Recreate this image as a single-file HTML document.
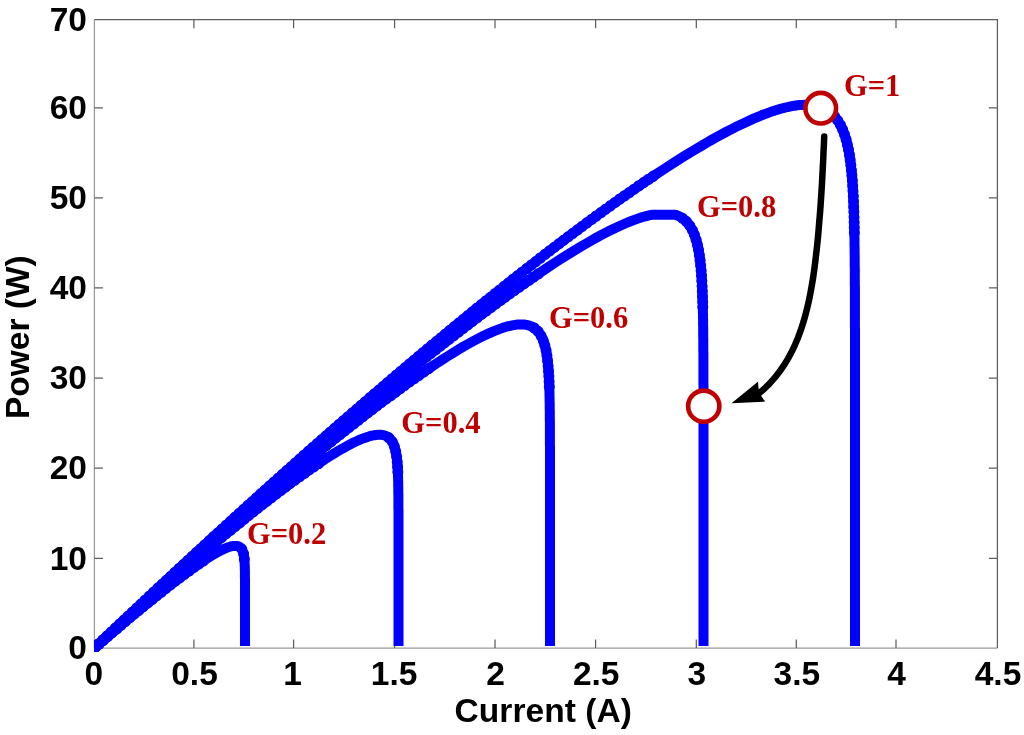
<!DOCTYPE html>
<html lang="en"><head><meta charset="utf-8"><title>P-I curves</title>
<style>
html,body{margin:0;padding:0;background:#fff;}
body{width:1024px;height:735px;overflow:hidden;position:relative;}
svg{position:absolute;left:0;top:0;display:block;}
.t{font-family:"Liberation Sans",Arial,Helvetica,sans-serif;font-weight:bold;font-size:33.5px;fill:#000;}
.l{font-family:"Liberation Sans",Arial,Helvetica,sans-serif;font-weight:bold;font-size:33.5px;fill:#000;}
.g{font-family:"Liberation Serif","Times New Roman",Times,serif;font-weight:bold;font-size:30.5px;fill:#c00000;}
</style></head><body>
<svg width="1024" height="735" viewBox="0 0 1024 735">
<rect x="0" y="0" width="1024" height="735" fill="#fff"/>
<defs><clipPath id="cp"><rect x="94" y="19" width="904" height="633"/></clipPath></defs>

<g fill="none" stroke-width="1.25">
<path stroke="#9a9a9a" d="M94.4,19.7 V648 H997.4"/>
<path stroke="#5e5e5e" d="M94.4,19.7 H997.4 V648"/>
<path stroke="#5e5e5e" d="M193.9,648 v-8.5 M193.9,19.7 v8.5 M293.6,648 v-8.5 M293.6,19.7 v8.5 M394.6,648 v-8.5 M394.6,19.7 v8.5 M495.0,648 v-8.5 M495.0,19.7 v8.5 M595.6,648 v-8.5 M595.6,19.7 v8.5 M696.3,648 v-8.5 M696.3,19.7 v8.5 M796.3,648 v-8.5 M796.3,19.7 v8.5 M896.0,648 v-8.5 M896.0,19.7 v8.5 M94.4,558.3 h8.5 M997.4,558.3 h-8.5 M94.4,468.2 h8.5 M997.4,468.2 h-8.5 M94.4,378.2 h8.5 M997.4,378.2 h-8.5 M94.4,287.8 h8.5 M997.4,287.8 h-8.5 M94.4,197.8 h8.5 M997.4,197.8 h-8.5 M94.4,107.9 h8.5 M997.4,107.9 h-8.5"/>
</g>
<g clip-path="url(#cp)" fill="none" stroke="#0000ff" stroke-width="10.0" stroke-linejoin="round" stroke-linecap="butt">
<path id="c0" d="M94.5,648.0 L96.2,646.5 L97.9,645.0 L99.6,643.5 L101.4,642.0 L103.1,640.6 L104.8,639.1 L106.5,637.6 L108.2,636.1 L109.9,634.7 L111.6,633.2 L113.4,631.7 L115.1,630.3 L116.8,628.8 L118.5,627.3 L120.2,625.9 L121.9,624.4 L123.6,623.0 L125.4,621.5 L127.1,620.1 L128.8,618.6 L130.5,617.2 L132.2,615.8 L133.9,614.3 L135.6,612.9 L137.4,611.5 L139.1,610.1 L140.8,608.7 L142.5,607.2 L144.2,605.8 L145.9,604.4 L147.7,603.0 L149.4,601.6 L151.1,600.3 L152.8,598.9 L154.5,597.5 L156.2,596.1 L157.9,594.7 L159.7,593.4 L161.4,592.0 L163.1,590.6 L164.8,589.3 L166.5,587.9 L168.2,586.6 L169.9,585.3 L171.7,583.9 L173.4,582.6 L175.1,581.3 L176.8,580.0 L178.5,578.7 L180.2,577.4 L181.9,576.1 L183.7,574.8 L185.4,573.6 L187.1,572.3 L188.8,571.1 L190.5,569.8 L192.2,568.6 L193.9,567.4 L195.7,566.2 L197.4,565.0 L199.1,563.8 L200.8,562.6 L202.5,561.5 L204.2,560.3 L205.9,559.2 L207.7,558.1 L209.4,557.0 L211.1,556.0 L212.8,554.9 L214.5,553.9 L216.2,552.9 L217.9,552.0 L219.7,551.1 L221.4,550.2 L223.1,549.4 L224.8,548.6 L226.5,547.9 L228.2,547.2 L229.9,546.7 L230.6,546.5 L231.3,546.3 L231.9,546.2 L232.5,546.1 L233.1,546.0 L234.1,546.0 L235.1,546.0 L235.9,546.0 L236.7,546.0 L237.5,546.0 L238.1,546.2 L238.7,546.4 L239.3,546.7 L239.8,547.0 L240.3,547.4 L240.7,547.7 L241.1,548.2 L241.4,548.6 L241.7,549.0 L242.0,549.5 L242.3,550.0 L242.5,550.5 L242.7,551.1 L242.9,551.6 L243.1,552.2 L243.3,552.7 L243.4,553.3 L243.6,553.9 L243.7,554.5 L243.8,555.1 L243.9,555.7 L244.0,556.4 L244.1,557.0 L244.2,557.6 L244.3,558.3 L244.3,558.9 L244.4,559.5 L244.4,560.2 L244.5,560.8 L244.5,561.5 L244.6,562.2 L244.6,562.8 L244.6,563.5 L244.7,564.1 L244.7,564.8 L244.7,565.5 L244.8,566.2 L244.8,566.8 L244.8,567.5 L244.8,568.2 L244.8,568.8 L244.8,569.5 L244.9,570.2 L244.9,570.9 L244.9,571.5 L244.9,572.2 L244.9,572.9 L244.9,573.6 L244.9,574.3 L244.9,574.9 L244.9,575.6 L244.9,576.3 L244.9,577.0 L244.9,577.7 L245.0,578.3 L245.0,579.0 L245.0,579.7 L245.0,580.4 L245.0,581.1 L245.0,581.8 L245.0,582.4 L245.0,583.1 L245.0,583.8 L245.0,584.5 L245.0,585.2 L245.0,585.8 L245.0,586.5 L245.0,587.2 L245.0,587.9 L245.0,588.6 L245.0,589.3 L245.0,589.9 L245.0,590.6 L245.0,591.3 L245.0,592.0 L245.0,592.7 L245.0,593.4 L245.0,594.0 L245.0,594.7 L245.0,595.4 L245.0,596.1 L245.0,596.8 L245.0,597.5 L245.0,598.1 L245.0,598.8 L245.0,599.5 L245.0,600.2 L245.0,600.9 L245.0,601.6 L245.0,602.2 L245.0,602.9 L245.0,603.6 L245.0,604.3 L245.0,605.0 L245.0,605.7 L245.0,606.4 L245.0,607.0 L245.0,607.7 L245.0,608.4 L245.0,609.1 L245.0,609.8 L245.0,610.5 L245.0,611.1 L245.0,611.8 L245.0,612.5 L245.0,613.2 L245.0,613.9 L245.0,614.6 L245.0,615.2 L245.0,615.9 L245.0,616.6 L245.0,617.3 L245.0,618.0 L245.0,618.7 L245.0,619.3 L245.0,620.0 L245.0,620.7 L245.0,621.4 L245.0,622.1 L245.0,622.8 L245.0,623.4 L245.0,624.1 L245.0,624.8 L245.0,625.5 L245.0,626.2 L245.0,626.9 L245.0,627.5 L245.0,628.2 L245.0,628.9 L245.0,629.6 L245.0,630.3 L245.0,631.0 L245.0,631.6 L245.0,632.3 L245.0,633.0 L245.0,633.7 L245.0,634.4 L245.0,635.1 L245.0,635.7 L245.0,636.4 L245.0,637.1 L245.0,637.8 L245.0,638.5 L245.0,639.2 L245.0,639.8 L245.0,640.5 L245.0,641.2 L245.0,641.9 L245.0,642.6 L245.0,643.3 L245.0,643.9 L245.0,644.6 L245.0,645.3 L245.0,646.0 L245.0,646.0"/>
<path stroke-width="11.2" stroke-linecap="round" stroke-dasharray="0.01 5.8" d="M94.5,648.0 L96.2,646.5 L97.9,645.0 L99.6,643.5 L101.4,642.0 L103.1,640.6 L104.8,639.1 L106.5,637.6 L108.2,636.1 L109.9,634.7 L111.6,633.2 L113.4,631.7 L115.1,630.3 L116.8,628.8 L118.5,627.3 L120.2,625.9 L121.9,624.4 L123.6,623.0 L125.4,621.5 L127.1,620.1 L128.8,618.6 L130.5,617.2 L132.2,615.8 L133.9,614.3 L135.6,612.9 L137.4,611.5 L139.1,610.1 L140.8,608.7 L142.5,607.2 L144.2,605.8 L145.9,604.4 L147.7,603.0 L149.4,601.6 L151.1,600.3 L152.8,598.9 L154.5,597.5 L156.2,596.1 L157.9,594.7 L159.7,593.4 L161.4,592.0 L163.1,590.6 L164.8,589.3 L166.5,587.9 L168.2,586.6 L169.9,585.3 L171.7,583.9 L173.4,582.6 L175.1,581.3 L176.8,580.0 L178.5,578.7 L180.2,577.4 L181.9,576.1 L183.7,574.8 L185.4,573.6 L187.1,572.3 L188.8,571.1 L190.5,569.8 L192.2,568.6 L193.9,567.4 L195.7,566.2 L197.4,565.0 L199.1,563.8 L200.8,562.6 L202.5,561.5 L204.2,560.3"/>
<path stroke-width="11" stroke-linecap="round" stroke-dasharray="0.01 5.2" d="M241.7,549.0 L242.0,549.5 L242.3,550.0 L242.5,550.5 L242.7,551.1 L242.9,551.6 L243.1,552.2 L243.3,552.7 L243.4,553.3 L243.6,553.9 L243.7,554.5 L243.8,555.1 L243.9,555.7 L244.0,556.4 L244.1,557.0 L244.2,557.6 L244.3,558.3 L244.3,558.9 L244.4,559.5"/>
<path id="c1" d="M94.5,648.0 L98.0,644.9 L101.4,641.7 L104.9,638.6 L108.4,635.5 L111.8,632.4 L115.3,629.3 L118.7,626.2 L122.2,623.1 L125.7,620.0 L129.1,616.9 L132.6,613.8 L136.1,610.8 L139.5,607.7 L143.0,604.7 L146.4,601.6 L149.9,598.6 L153.4,595.5 L156.8,592.5 L160.3,589.5 L163.8,586.5 L167.2,583.5 L170.7,580.5 L174.2,577.5 L177.6,574.5 L181.1,571.5 L184.5,568.6 L188.0,565.6 L191.5,562.7 L194.9,559.7 L198.4,556.8 L201.9,553.9 L205.3,551.0 L208.8,548.1 L212.3,545.2 L215.7,542.3 L219.2,539.4 L222.6,536.6 L226.1,533.7 L229.6,530.9 L233.0,528.1 L236.5,525.3 L240.0,522.5 L243.4,519.7 L246.9,516.9 L250.3,514.1 L253.8,511.4 L257.3,508.6 L260.7,505.9 L264.2,503.2 L267.7,500.5 L271.1,497.9 L274.6,495.2 L278.1,492.6 L281.5,490.0 L285.0,487.4 L288.4,484.8 L291.9,482.2 L295.4,479.7 L298.8,477.2 L302.3,474.7 L305.8,472.3 L309.2,469.8 L312.7,467.4 L316.2,465.1 L319.6,462.8 L323.1,460.5 L326.5,458.2 L330.0,456.0 L333.5,453.9 L336.9,451.8 L340.4,449.7 L343.9,447.8 L347.3,445.9 L350.8,444.0 L354.2,442.3 L357.7,440.7 L361.2,439.2 L364.6,437.9 L368.1,436.7 L369.5,436.3 L370.8,435.9 L372.0,435.6 L373.2,435.4 L374.4,435.2 L375.5,435.0 L376.5,434.9 L377.5,434.8 L378.4,434.7 L379.3,434.7 L380.2,434.7 L381.0,434.8 L381.8,434.9 L382.6,435.0 L383.3,435.1 L384.0,435.3 L384.6,435.5 L385.3,435.7 L385.8,435.9 L386.4,436.2 L387.0,436.5 L387.5,436.8 L388.0,437.1 L388.5,437.4 L388.9,437.8 L389.3,438.1 L389.8,438.5 L390.1,438.9 L390.5,439.3 L390.9,439.8 L391.2,440.2 L391.6,440.7 L391.9,441.1 L392.2,441.6 L392.5,442.1 L392.7,442.6 L393.0,443.1 L393.2,443.6 L393.5,444.1 L393.7,444.7 L393.9,445.2 L394.1,445.7 L394.3,446.3 L394.5,446.9 L394.7,447.4 L394.9,448.0 L395.0,448.6 L395.2,449.1 L395.3,449.7 L395.5,450.3 L395.6,450.9 L395.7,451.5 L395.9,452.1 L396.0,452.7 L396.1,453.4 L396.2,454.0 L396.3,454.6 L396.4,455.2 L396.5,455.8 L396.6,456.5 L396.7,457.1 L396.8,457.7 L396.8,458.4 L396.9,459.0 L397.0,459.7 L397.1,460.3 L397.1,461.0 L397.2,461.6 L397.2,462.3 L397.3,462.9 L397.4,463.6 L397.4,464.2 L397.5,464.9 L397.5,465.6 L397.5,466.2 L397.6,466.9 L397.6,467.5 L397.7,468.2 L397.7,468.9 L397.7,469.5 L397.8,470.2 L397.8,470.9 L397.8,471.6 L397.9,472.2 L397.9,472.9 L397.9,473.6 L398.0,474.3 L398.0,474.9 L398.0,475.6 L398.0,476.3 L398.0,477.0 L398.1,477.6 L398.1,478.3 L398.1,479.0 L398.1,479.7 L398.1,480.4 L398.2,481.0 L398.2,481.7 L398.2,482.4 L398.2,483.1 L398.2,483.8 L398.2,484.5 L398.2,485.1 L398.2,485.8 L398.3,486.5 L398.3,487.2 L398.3,487.9 L398.3,488.6 L398.3,489.2 L398.3,489.9 L398.3,490.6 L398.3,491.3 L398.3,492.0 L398.3,492.7 L398.3,493.4 L398.4,494.0 L398.4,494.7 L398.4,495.4 L398.4,496.1 L398.4,496.8 L398.4,497.5 L398.4,498.2 L398.4,498.9 L398.4,499.5 L398.4,500.2 L398.4,500.9 L398.4,501.6 L398.4,502.3 L398.4,503.0 L398.4,503.7 L398.4,504.4 L398.4,505.1 L398.4,505.7 L398.4,506.4 L398.4,507.1 L398.4,507.8 L398.4,508.5 L398.4,509.2 L398.5,509.9 L398.5,510.6 L398.5,511.3 L398.5,511.9 L398.5,512.6 L398.5,513.3 L398.5,514.0 L398.5,514.7 L398.5,515.4 L398.5,516.1 L398.5,516.8 L398.5,517.5 L398.5,518.2 L398.5,518.8 L398.5,519.5 L398.5,520.2 L398.5,520.9 L398.5,521.6 L398.5,522.3 L398.5,523.0 L398.5,523.7 L398.5,524.4 L398.5,525.0 L398.5,525.7 L398.5,526.4 L398.5,527.1 L398.5,527.8 L398.5,528.5 L398.5,529.2 L398.5,529.9 L398.5,530.6 L398.5,531.3 L398.5,532.0 L398.5,532.6 L398.5,533.3 L398.5,534.0 L398.5,534.7 L398.5,535.4 L398.5,536.1 L398.5,536.8 L398.5,537.5 L398.5,538.2 L398.5,538.9 L398.5,539.5 L398.5,540.2 L398.5,540.9 L398.5,541.6 L398.5,542.3 L398.5,543.0 L398.5,543.7 L398.5,544.4 L398.5,545.1 L398.5,545.8 L398.5,546.4 L398.5,547.1 L398.5,547.8 L398.5,548.5 L398.5,549.2 L398.5,549.9 L398.5,550.6 L398.5,551.3 L398.5,552.0 L398.5,552.7 L398.5,553.4 L398.5,554.0 L398.5,554.7 L398.5,555.4 L398.5,556.1 L398.5,556.8 L398.5,557.5 L398.5,558.2 L398.5,558.9 L398.5,559.6 L398.5,560.3 L398.5,560.9 L398.5,561.6 L398.5,562.3 L398.5,563.0 L398.5,563.7 L398.5,564.4 L398.5,565.1 L398.5,565.8 L398.5,566.5 L398.5,567.2 L398.5,567.8 L398.5,568.5 L398.5,569.2 L398.5,569.9 L398.5,570.6 L398.5,571.3 L398.5,572.0 L398.5,572.7 L398.5,573.4 L398.5,574.1 L398.5,574.8 L398.5,575.4 L398.5,576.1 L398.5,576.8 L398.5,577.5 L398.5,578.2 L398.5,578.9 L398.5,579.6 L398.5,580.3 L398.5,581.0 L398.5,581.7 L398.5,582.3 L398.5,583.0 L398.5,583.7 L398.5,584.4 L398.5,585.1 L398.5,585.8 L398.5,586.5 L398.5,587.2 L398.5,587.9 L398.5,588.6 L398.5,589.3 L398.5,589.9 L398.5,590.6 L398.5,591.3 L398.5,592.0 L398.5,592.7 L398.5,593.4 L398.5,594.1 L398.5,594.8 L398.5,595.5 L398.5,596.2 L398.5,596.8 L398.5,597.5 L398.5,598.2 L398.5,598.9 L398.5,599.6 L398.5,600.3 L398.5,601.0 L398.5,601.7 L398.5,602.4 L398.5,603.1 L398.5,603.8 L398.5,604.4 L398.5,605.1 L398.5,605.8 L398.5,606.5 L398.5,607.2 L398.5,607.9 L398.5,608.6 L398.5,609.3 L398.5,610.0 L398.5,610.7 L398.5,611.3 L398.5,612.0 L398.5,612.7 L398.5,613.4 L398.5,614.1 L398.5,614.8 L398.5,615.5 L398.5,616.2 L398.5,616.9 L398.5,617.6 L398.5,618.2 L398.5,618.9 L398.5,619.6 L398.5,620.3 L398.5,621.0 L398.5,621.7 L398.5,622.4 L398.5,623.1 L398.5,623.8 L398.5,624.5 L398.5,625.2 L398.5,625.8 L398.5,626.5 L398.5,627.2 L398.5,627.9 L398.5,628.6 L398.5,629.3 L398.5,630.0 L398.5,630.7 L398.5,631.4 L398.5,632.1 L398.5,632.7 L398.5,633.4 L398.5,634.1 L398.5,634.8 L398.5,635.5 L398.5,636.2 L398.5,636.9 L398.5,637.6 L398.5,638.3 L398.5,639.0 L398.5,639.7 L398.5,640.3 L398.5,641.0 L398.5,641.7 L398.5,642.4 L398.5,643.1 L398.5,643.8 L398.5,644.5 L398.5,645.2 L398.5,645.9 L398.5,646.0"/>
<path stroke-width="11.2" stroke-linecap="round" stroke-dasharray="0.01 5.8" d="M94.5,648.0 L98.0,644.9 L101.4,641.7 L104.9,638.6 L108.4,635.5 L111.8,632.4 L115.3,629.3 L118.7,626.2 L122.2,623.1 L125.7,620.0 L129.1,616.9 L132.6,613.8 L136.1,610.8 L139.5,607.7 L143.0,604.7 L146.4,601.6 L149.9,598.6 L153.4,595.5 L156.8,592.5 L160.3,589.5 L163.8,586.5 L167.2,583.5 L170.7,580.5 L174.2,577.5 L177.6,574.5 L181.1,571.5 L184.5,568.6 L188.0,565.6 L191.5,562.7 L194.9,559.7 L198.4,556.8 L201.9,553.9 L205.3,551.0 L208.8,548.1 L212.3,545.2 L215.7,542.3 L219.2,539.4 L222.6,536.6 L226.1,533.7 L229.6,530.9 L233.0,528.1 L236.5,525.3 L240.0,522.5 L243.4,519.7 L246.9,516.9 L250.3,514.1 L253.8,511.4 L257.3,508.6 L260.7,505.9 L264.2,503.2 L267.7,500.5 L271.1,497.9 L274.6,495.2 L278.1,492.6 L281.5,490.0 L285.0,487.4 L288.4,484.8 L291.9,482.2 L295.4,479.7 L298.8,477.2 L302.3,474.7 L305.8,472.3 L309.2,469.8 L312.7,467.4 L316.2,465.1 L319.6,462.8"/>
<path stroke-width="11" stroke-linecap="round" stroke-dasharray="0.01 5.2" d="M388.9,437.8 L389.3,438.1 L389.8,438.5 L390.1,438.9 L390.5,439.3 L390.9,439.8 L391.2,440.2 L391.6,440.7 L391.9,441.1 L392.2,441.6 L392.5,442.1 L392.7,442.6 L393.0,443.1 L393.2,443.6 L393.5,444.1 L393.7,444.7 L393.9,445.2 L394.1,445.7 L394.3,446.3 L394.5,446.9 L394.7,447.4 L394.9,448.0 L395.0,448.6 L395.2,449.1 L395.3,449.7 L395.5,450.3 L395.6,450.9 L395.7,451.5 L395.9,452.1 L396.0,452.7 L396.1,453.4 L396.2,454.0 L396.3,454.6 L396.4,455.2 L396.5,455.8 L396.6,456.5 L396.7,457.1 L396.8,457.7 L396.8,458.4 L396.9,459.0 L397.0,459.7 L397.1,460.3 L397.1,461.0 L397.2,461.6 L397.2,462.3 L397.3,462.9 L397.4,463.6 L397.4,464.2 L397.5,464.9 L397.5,465.6 L397.5,466.2 L397.6,466.9 L397.6,467.5 L397.7,468.2 L397.7,468.9 L397.7,469.5 L397.8,470.2 L397.8,470.9 L397.8,471.6 L397.9,472.2 L397.9,472.9"/>
<path id="c2" d="M94.5,648.0 L99.7,643.2 L104.9,638.4 L110.1,633.6 L115.3,628.9 L120.4,624.1 L125.6,619.4 L130.8,614.6 L136.0,609.9 L141.2,605.2 L146.4,600.5 L151.6,595.8 L156.8,591.1 L162.0,586.4 L167.1,581.8 L172.3,577.1 L177.5,572.5 L182.7,567.8 L187.9,563.2 L193.1,558.6 L198.3,554.0 L203.5,549.5 L208.7,544.9 L213.9,540.3 L219.0,535.8 L224.2,531.3 L229.4,526.8 L234.6,522.3 L239.8,517.8 L245.0,513.3 L250.2,508.9 L255.4,504.4 L260.6,500.0 L265.7,495.6 L270.9,491.2 L276.1,486.8 L281.3,482.5 L286.5,478.1 L291.7,473.8 L296.9,469.5 L302.1,465.2 L307.3,461.0 L312.4,456.7 L317.6,452.5 L322.8,448.3 L328.0,444.1 L333.2,439.9 L338.4,435.8 L343.6,431.7 L348.8,427.6 L354.0,423.5 L359.2,419.5 L364.3,415.5 L369.5,411.5 L374.7,407.5 L379.9,403.6 L385.1,399.7 L390.3,395.9 L395.5,392.1 L400.7,388.3 L405.9,384.5 L411.0,380.8 L416.2,377.2 L421.4,373.6 L426.6,370.0 L431.8,366.5 L437.0,363.1 L442.2,359.7 L447.4,356.4 L452.6,353.2 L457.7,350.0 L462.9,346.9 L468.1,344.0 L473.3,341.1 L478.5,338.4 L483.7,335.8 L488.9,333.4 L494.1,331.1 L499.3,329.1 L504.4,327.3 L506.5,326.7 L508.5,326.2 L510.3,325.8 L512.1,325.4 L513.8,325.1 L515.5,324.8 L517.0,324.6 L518.5,324.6 L519.9,324.6 L521.3,324.6 L522.6,324.6 L523.8,324.6 L525.0,324.6 L526.1,324.8 L527.2,325.0 L528.2,325.3 L529.2,325.6 L530.1,325.9 L531.0,326.2 L531.9,326.6 L532.7,327.1 L533.5,327.5 L534.2,328.0 L535.0,328.5 L535.6,329.0 L536.3,329.6 L536.9,330.2 L537.5,330.8 L538.1,331.4 L538.6,332.0 L539.1,332.7 L539.6,333.4 L540.1,334.1 L540.5,334.8 L540.9,335.5 L541.3,336.2 L541.7,337.0 L542.1,337.8 L542.5,338.5 L542.8,339.3 L543.1,340.1 L543.4,341.0 L543.7,341.8 L544.0,342.6 L544.3,343.5 L544.5,344.3 L544.8,345.2 L545.0,346.1 L545.3,347.0 L545.5,347.8 L545.7,348.7 L545.9,349.6 L546.1,350.5 L546.2,351.5 L546.4,352.4 L546.6,353.3 L546.7,354.2 L546.9,355.2 L547.0,356.1 L547.1,357.1 L547.3,358.0 L547.4,359.0 L547.5,359.9 L547.6,360.9 L547.7,361.8 L547.8,362.8 L547.9,363.8 L548.0,364.8 L548.1,365.7 L548.2,366.7 L548.3,367.7 L548.4,368.7 L548.4,369.7 L548.5,370.7 L548.6,371.7 L548.6,372.7 L548.7,373.6 L548.8,374.6 L548.8,375.6 L548.9,376.6 L548.9,377.7 L549.0,378.7 L549.0,379.7 L549.1,380.7 L549.1,381.7 L549.1,382.7 L549.2,383.7 L549.2,384.7 L549.3,385.7 L549.3,386.7 L549.3,387.8 L549.3,388.8 L549.4,389.8 L549.4,390.8 L549.4,391.8 L549.5,392.8 L549.5,393.9 L549.5,394.9 L549.5,395.9 L549.5,396.9 L549.6,398.0 L549.6,399.0 L549.6,400.0 L549.6,401.0 L549.6,402.1 L549.7,403.1 L549.7,404.1 L549.7,405.1 L549.7,406.2 L549.7,407.2 L549.7,408.2 L549.7,409.2 L549.8,410.3 L549.8,411.3 L549.8,412.3 L549.8,413.4 L549.8,414.4 L549.8,415.4 L549.8,416.4 L549.8,417.5 L549.8,418.5 L549.8,419.5 L549.8,420.6 L549.9,421.6 L549.9,422.6 L549.9,423.7 L549.9,424.7 L549.9,425.7 L549.9,426.8 L549.9,427.8 L549.9,428.8 L549.9,429.8 L549.9,430.9 L549.9,431.9 L549.9,432.9 L549.9,434.0 L549.9,435.0 L549.9,436.0 L549.9,437.1 L549.9,438.1 L549.9,439.1 L549.9,440.2 L549.9,441.2 L549.9,442.2 L549.9,443.3 L549.9,444.3 L549.9,445.3 L550.0,446.4 L550.0,447.4 L550.0,448.4 L550.0,449.5 L550.0,450.5 L550.0,451.5 L550.0,452.6 L550.0,453.6 L550.0,454.6 L550.0,455.7 L550.0,456.7 L550.0,457.7 L550.0,458.8 L550.0,459.8 L550.0,460.8 L550.0,461.9 L550.0,462.9 L550.0,463.9 L550.0,465.0 L550.0,466.0 L550.0,467.1 L550.0,468.1 L550.0,469.1 L550.0,470.2 L550.0,471.2 L550.0,472.2 L550.0,473.3 L550.0,474.3 L550.0,475.3 L550.0,476.4 L550.0,477.4 L550.0,478.4 L550.0,479.5 L550.0,480.5 L550.0,481.5 L550.0,482.6 L550.0,483.6 L550.0,484.6 L550.0,485.7 L550.0,486.7 L550.0,487.7 L550.0,488.8 L550.0,489.8 L550.0,490.8 L550.0,491.9 L550.0,492.9 L550.0,493.9 L550.0,495.0 L550.0,496.0 L550.0,497.0 L550.0,498.1 L550.0,499.1 L550.0,500.1 L550.0,501.2 L550.0,502.2 L550.0,503.3 L550.0,504.3 L550.0,505.3 L550.0,506.4 L550.0,507.4 L550.0,508.4 L550.0,509.5 L550.0,510.5 L550.0,511.5 L550.0,512.6 L550.0,513.6 L550.0,514.6 L550.0,515.7 L550.0,516.7 L550.0,517.7 L550.0,518.8 L550.0,519.8 L550.0,520.8 L550.0,521.9 L550.0,522.9 L550.0,523.9 L550.0,525.0 L550.0,526.0 L550.0,527.0 L550.0,528.1 L550.0,529.1 L550.0,530.1 L550.0,531.2 L550.0,532.2 L550.0,533.3 L550.0,534.3 L550.0,535.3 L550.0,536.4 L550.0,537.4 L550.0,538.4 L550.0,539.5 L550.0,540.5 L550.0,541.5 L550.0,542.6 L550.0,543.6 L550.0,544.6 L550.0,545.7 L550.0,546.7 L550.0,547.7 L550.0,548.8 L550.0,549.8 L550.0,550.8 L550.0,551.9 L550.0,552.9 L550.0,553.9 L550.0,555.0 L550.0,556.0 L550.0,557.0 L550.0,558.1 L550.0,559.1 L550.0,560.1 L550.0,561.2 L550.0,562.2 L550.0,563.3 L550.0,564.3 L550.0,565.3 L550.0,566.4 L550.0,567.4 L550.0,568.4 L550.0,569.5 L550.0,570.5 L550.0,571.5 L550.0,572.6 L550.0,573.6 L550.0,574.6 L550.0,575.7 L550.0,576.7 L550.0,577.7 L550.0,578.8 L550.0,579.8 L550.0,580.8 L550.0,581.9 L550.0,582.9 L550.0,583.9 L550.0,585.0 L550.0,586.0 L550.0,587.0 L550.0,588.1 L550.0,589.1 L550.0,590.1 L550.0,591.2 L550.0,592.2 L550.0,593.3 L550.0,594.3 L550.0,595.3 L550.0,596.4 L550.0,597.4 L550.0,598.4 L550.0,599.5 L550.0,600.5 L550.0,601.5 L550.0,602.6 L550.0,603.6 L550.0,604.6 L550.0,605.7 L550.0,606.7 L550.0,607.7 L550.0,608.8 L550.0,609.8 L550.0,610.8 L550.0,611.9 L550.0,612.9 L550.0,613.9 L550.0,615.0 L550.0,616.0 L550.0,617.0 L550.0,618.1 L550.0,619.1 L550.0,620.1 L550.0,621.2 L550.0,622.2 L550.0,623.3 L550.0,624.3 L550.0,625.3 L550.0,626.4 L550.0,627.4 L550.0,628.4 L550.0,629.5 L550.0,630.5 L550.0,631.5 L550.0,632.6 L550.0,633.6 L550.0,634.6 L550.0,635.7 L550.0,636.7 L550.0,637.7 L550.0,638.8 L550.0,639.8 L550.0,640.8 L550.0,641.9 L550.0,642.9 L550.0,643.9 L550.0,645.0 L550.0,646.0"/>
<path stroke-width="11.2" stroke-linecap="round" stroke-dasharray="0.01 5.8" d="M94.5,648.0 L99.7,643.2 L104.9,638.4 L110.1,633.6 L115.3,628.9 L120.4,624.1 L125.6,619.4 L130.8,614.6 L136.0,609.9 L141.2,605.2 L146.4,600.5 L151.6,595.8 L156.8,591.1 L162.0,586.4 L167.1,581.8 L172.3,577.1 L177.5,572.5 L182.7,567.8 L187.9,563.2 L193.1,558.6 L198.3,554.0 L203.5,549.5 L208.7,544.9 L213.9,540.3 L219.0,535.8 L224.2,531.3 L229.4,526.8 L234.6,522.3 L239.8,517.8 L245.0,513.3 L250.2,508.9 L255.4,504.4 L260.6,500.0 L265.7,495.6 L270.9,491.2 L276.1,486.8 L281.3,482.5 L286.5,478.1 L291.7,473.8 L296.9,469.5 L302.1,465.2 L307.3,461.0 L312.4,456.7 L317.6,452.5 L322.8,448.3 L328.0,444.1 L333.2,439.9 L338.4,435.8 L343.6,431.7 L348.8,427.6 L354.0,423.5 L359.2,419.5 L364.3,415.5 L369.5,411.5 L374.7,407.5 L379.9,403.6 L385.1,399.7 L390.3,395.9 L395.5,392.1 L400.7,388.3 L405.9,384.5 L411.0,380.8 L416.2,377.2 L421.4,373.6 L426.6,370.0 L431.8,366.5"/>
<path stroke-width="11" stroke-linecap="round" stroke-dasharray="0.01 5.2" d="M534.2,328.0 L535.0,328.5 L535.6,329.0 L536.3,329.6 L536.9,330.2 L537.5,330.8 L538.1,331.4 L538.6,332.0 L539.1,332.7 L539.6,333.4 L540.1,334.1 L540.5,334.8 L540.9,335.5 L541.3,336.2 L541.7,337.0 L542.1,337.8 L542.5,338.5 L542.8,339.3 L543.1,340.1 L543.4,341.0 L543.7,341.8 L544.0,342.6 L544.3,343.5 L544.5,344.3 L544.8,345.2 L545.0,346.1 L545.3,347.0 L545.5,347.8 L545.7,348.7 L545.9,349.6 L546.1,350.5 L546.2,351.5 L546.4,352.4 L546.6,353.3 L546.7,354.2 L546.9,355.2 L547.0,356.1 L547.1,357.1 L547.3,358.0 L547.4,359.0 L547.5,359.9 L547.6,360.9 L547.7,361.8 L547.8,362.8 L547.9,363.8 L548.0,364.8 L548.1,365.7 L548.2,366.7 L548.3,367.7 L548.4,368.7 L548.4,369.7 L548.5,370.7 L548.6,371.7 L548.6,372.7 L548.7,373.6 L548.8,374.6 L548.8,375.6 L548.9,376.6 L548.9,377.7 L549.0,378.7 L549.0,379.7 L549.1,380.7 L549.1,381.7 L549.1,382.7 L549.2,383.7 L549.2,384.7 L549.3,385.7 L549.3,386.7 L549.3,387.8 L549.3,388.8 L549.4,389.8"/>
<path id="c3" d="M94.5,648.0 L101.4,641.5 L108.4,635.0 L115.3,628.5 L122.3,622.0 L129.2,615.6 L136.1,609.1 L143.1,602.7 L150.0,596.3 L156.9,589.9 L163.9,583.5 L170.8,577.2 L177.8,570.8 L184.7,564.5 L191.6,558.2 L198.6,551.9 L205.5,545.7 L212.4,539.4 L219.4,533.2 L226.3,526.9 L233.3,520.7 L240.2,514.6 L247.1,508.4 L254.1,502.3 L261.0,496.1 L267.9,490.0 L274.9,483.9 L281.8,477.9 L288.8,471.8 L295.7,465.8 L302.6,459.8 L309.6,453.8 L316.5,447.9 L323.5,441.9 L330.4,436.0 L337.3,430.2 L344.3,424.3 L351.2,418.5 L358.1,412.6 L365.1,406.9 L372.0,401.1 L379.0,395.4 L385.9,389.7 L392.8,384.0 L399.8,378.4 L406.7,372.7 L413.6,367.2 L420.6,361.6 L427.5,356.1 L434.5,350.6 L441.4,345.2 L448.3,339.8 L455.3,334.4 L462.2,329.1 L469.2,323.8 L476.1,318.5 L483.0,313.3 L490.0,308.2 L496.9,303.1 L503.8,298.0 L510.8,293.0 L517.7,288.1 L524.7,283.2 L531.6,278.4 L538.5,273.7 L545.5,269.0 L552.4,264.4 L559.3,259.9 L566.3,255.5 L573.2,251.2 L580.2,247.0 L587.1,243.0 L594.0,239.0 L601.0,235.2 L607.9,231.6 L614.8,228.2 L621.8,225.0 L628.7,222.0 L635.7,219.4 L642.6,217.0 L645.3,216.3 L648.0,215.6 L650.5,215.0 L652.9,214.7 L655.1,214.7 L657.3,214.7 L659.4,214.7 L661.4,214.7 L663.3,214.7 L665.1,214.7 L666.8,214.7 L668.5,214.7 L670.1,214.7 L671.6,214.7 L673.0,214.7 L674.4,214.7 L675.7,214.9 L677.0,215.3 L678.2,215.8 L679.3,216.3 L680.4,216.9 L681.4,217.5 L682.4,218.2 L683.4,218.9 L684.3,219.6 L685.2,220.3 L686.0,221.1 L686.8,221.9 L687.5,222.8 L688.2,223.6 L688.9,224.5 L689.6,225.4 L690.2,226.4 L690.8,227.3 L691.4,228.3 L691.9,229.3 L692.5,230.3 L693.0,231.3 L693.4,232.4 L693.9,233.5 L694.3,234.5 L694.7,235.6 L695.1,236.7 L695.5,237.9 L695.9,239.0 L696.2,240.1 L696.5,241.3 L696.9,242.5 L697.2,243.7 L697.4,244.8 L697.7,246.0 L698.0,247.3 L698.2,248.5 L698.5,249.7 L698.7,250.9 L698.9,252.2 L699.1,253.4 L699.3,254.7 L699.5,255.9 L699.7,257.2 L699.9,258.5 L700.0,259.7 L700.2,261.0 L700.3,262.3 L700.5,263.6 L700.6,264.9 L700.7,266.2 L700.9,267.5 L701.0,268.8 L701.1,270.1 L701.2,271.4 L701.3,272.8 L701.4,274.1 L701.5,275.4 L701.6,276.7 L701.7,278.1 L701.8,279.4 L701.8,280.7 L701.9,282.1 L702.0,283.4 L702.0,284.7 L702.1,286.1 L702.2,287.4 L702.2,288.8 L702.3,290.1 L702.3,291.5 L702.4,292.8 L702.5,294.2 L702.5,295.5 L702.5,296.9 L702.6,298.3 L702.6,299.6 L702.7,301.0 L702.7,302.3 L702.7,303.7 L702.8,305.1 L702.8,306.4 L702.8,307.8 L702.9,309.2 L702.9,310.5 L702.9,311.9 L702.9,313.3 L703.0,314.6 L703.0,316.0 L703.0,317.4 L703.0,318.7 L703.1,320.1 L703.1,321.5 L703.1,322.9 L703.1,324.2 L703.1,325.6 L703.2,327.0 L703.2,328.4 L703.2,329.7 L703.2,331.1 L703.2,332.5 L703.2,333.9 L703.2,335.2 L703.2,336.6 L703.3,338.0 L703.3,339.4 L703.3,340.7 L703.3,342.1 L703.3,343.5 L703.3,344.9 L703.3,346.3 L703.3,347.6 L703.3,349.0 L703.3,350.4 L703.3,351.8 L703.4,353.2 L703.4,354.5 L703.4,355.9 L703.4,357.3 L703.4,358.7 L703.4,360.1 L703.4,361.4 L703.4,362.8 L703.4,364.2 L703.4,365.6 L703.4,367.0 L703.4,368.3 L703.4,369.7 L703.4,371.1 L703.4,372.5 L703.4,373.9 L703.4,375.3 L703.4,376.6 L703.4,378.0 L703.4,379.4 L703.4,380.8 L703.4,382.2 L703.4,383.5 L703.5,384.9 L703.5,386.3 L703.5,387.7 L703.5,389.1 L703.5,390.5 L703.5,391.8 L703.5,393.2 L703.5,394.6 L703.5,396.0 L703.5,397.4 L703.5,398.7 L703.5,400.1 L703.5,401.5 L703.5,402.9 L703.5,404.3 L703.5,405.7 L703.5,407.0 L703.5,408.4 L703.5,409.8 L703.5,411.2 L703.5,412.6 L703.5,414.0 L703.5,415.3 L703.5,416.7 L703.5,418.1 L703.5,419.5 L703.5,420.9 L703.5,422.3 L703.5,423.6 L703.5,425.0 L703.5,426.4 L703.5,427.8 L703.5,429.2 L703.5,430.6 L703.5,431.9 L703.5,433.3 L703.5,434.7 L703.5,436.1 L703.5,437.5 L703.5,438.8 L703.5,440.2 L703.5,441.6 L703.5,443.0 L703.5,444.4 L703.5,445.8 L703.5,447.1 L703.5,448.5 L703.5,449.9 L703.5,451.3 L703.5,452.7 L703.5,454.1 L703.5,455.4 L703.5,456.8 L703.5,458.2 L703.5,459.6 L703.5,461.0 L703.5,462.4 L703.5,463.7 L703.5,465.1 L703.5,466.5 L703.5,467.9 L703.5,469.3 L703.5,470.7 L703.5,472.0 L703.5,473.4 L703.5,474.8 L703.5,476.2 L703.5,477.6 L703.5,479.0 L703.5,480.3 L703.5,481.7 L703.5,483.1 L703.5,484.5 L703.5,485.9 L703.5,487.3 L703.5,488.6 L703.5,490.0 L703.5,491.4 L703.5,492.8 L703.5,494.2 L703.5,495.6 L703.5,496.9 L703.5,498.3 L703.5,499.7 L703.5,501.1 L703.5,502.5 L703.5,503.9 L703.5,505.2 L703.5,506.6 L703.5,508.0 L703.5,509.4 L703.5,510.8 L703.5,512.2 L703.5,513.5 L703.5,514.9 L703.5,516.3 L703.5,517.7 L703.5,519.1 L703.5,520.4 L703.5,521.8 L703.5,523.2 L703.5,524.6 L703.5,526.0 L703.5,527.4 L703.5,528.7 L703.5,530.1 L703.5,531.5 L703.5,532.9 L703.5,534.3 L703.5,535.7 L703.5,537.0 L703.5,538.4 L703.5,539.8 L703.5,541.2 L703.5,542.6 L703.5,544.0 L703.5,545.3 L703.5,546.7 L703.5,548.1 L703.5,549.5 L703.5,550.9 L703.5,552.3 L703.5,553.6 L703.5,555.0 L703.5,556.4 L703.5,557.8 L703.5,559.2 L703.5,560.6 L703.5,561.9 L703.5,563.3 L703.5,564.7 L703.5,566.1 L703.5,567.5 L703.5,568.9 L703.5,570.2 L703.5,571.6 L703.5,573.0 L703.5,574.4 L703.5,575.8 L703.5,577.2 L703.5,578.5 L703.5,579.9 L703.5,581.3 L703.5,582.7 L703.5,584.1 L703.5,585.5 L703.5,586.8 L703.5,588.2 L703.5,589.6 L703.5,591.0 L703.5,592.4 L703.5,593.8 L703.5,595.1 L703.5,596.5 L703.5,597.9 L703.5,599.3 L703.5,600.7 L703.5,602.1 L703.5,603.4 L703.5,604.8 L703.5,606.2 L703.5,607.6 L703.5,609.0 L703.5,610.4 L703.5,611.7 L703.5,613.1 L703.5,614.5 L703.5,615.9 L703.5,617.3 L703.5,618.6 L703.5,620.0 L703.5,621.4 L703.5,622.8 L703.5,624.2 L703.5,625.6 L703.5,626.9 L703.5,628.3 L703.5,629.7 L703.5,631.1 L703.5,632.5 L703.5,633.9 L703.5,635.2 L703.5,636.6 L703.5,638.0 L703.5,639.4 L703.5,640.8 L703.5,642.2 L703.5,643.5 L703.5,644.9 L703.5,646.0"/>
<path stroke-width="11.2" stroke-linecap="round" stroke-dasharray="0.01 5.8" d="M94.5,648.0 L101.4,641.5 L108.4,635.0 L115.3,628.5 L122.3,622.0 L129.2,615.6 L136.1,609.1 L143.1,602.7 L150.0,596.3 L156.9,589.9 L163.9,583.5 L170.8,577.2 L177.8,570.8 L184.7,564.5 L191.6,558.2 L198.6,551.9 L205.5,545.7 L212.4,539.4 L219.4,533.2 L226.3,526.9 L233.3,520.7 L240.2,514.6 L247.1,508.4 L254.1,502.3 L261.0,496.1 L267.9,490.0 L274.9,483.9 L281.8,477.9 L288.8,471.8 L295.7,465.8 L302.6,459.8 L309.6,453.8 L316.5,447.9 L323.5,441.9 L330.4,436.0 L337.3,430.2 L344.3,424.3 L351.2,418.5 L358.1,412.6 L365.1,406.9 L372.0,401.1 L379.0,395.4 L385.9,389.7 L392.8,384.0 L399.8,378.4 L406.7,372.7 L413.6,367.2 L420.6,361.6 L427.5,356.1 L434.5,350.6 L441.4,345.2 L448.3,339.8 L455.3,334.4 L462.2,329.1 L469.2,323.8 L476.1,318.5 L483.0,313.3 L490.0,308.2 L496.9,303.1 L503.8,298.0 L510.8,293.0 L517.7,288.1 L524.7,283.2 L531.6,278.4 L538.5,273.7"/>
<path stroke-width="11" stroke-linecap="round" stroke-dasharray="0.01 5.2" d="M682.4,218.2 L683.4,218.9 L684.3,219.6 L685.2,220.3 L686.0,221.1 L686.8,221.9 L687.5,222.8 L688.2,223.6 L688.9,224.5 L689.6,225.4 L690.2,226.4 L690.8,227.3 L691.4,228.3 L691.9,229.3 L692.5,230.3 L693.0,231.3 L693.4,232.4 L693.9,233.5 L694.3,234.5 L694.7,235.6 L695.1,236.7 L695.5,237.9 L695.9,239.0 L696.2,240.1 L696.5,241.3 L696.9,242.5 L697.2,243.7 L697.4,244.8 L697.7,246.0 L698.0,247.3 L698.2,248.5 L698.5,249.7 L698.7,250.9 L698.9,252.2 L699.1,253.4 L699.3,254.7 L699.5,255.9 L699.7,257.2 L699.9,258.5 L700.0,259.7 L700.2,261.0 L700.3,262.3 L700.5,263.6 L700.6,264.9 L700.7,266.2 L700.9,267.5 L701.0,268.8 L701.1,270.1 L701.2,271.4 L701.3,272.8 L701.4,274.1 L701.5,275.4 L701.6,276.7 L701.7,278.1 L701.8,279.4 L701.8,280.7 L701.9,282.1 L702.0,283.4 L702.0,284.7 L702.1,286.1 L702.2,287.4 L702.2,288.8 L702.3,290.1 L702.3,291.5 L702.4,292.8 L702.5,294.2 L702.5,295.5 L702.5,296.9 L702.6,298.3 L702.6,299.6 L702.7,301.0 L702.7,302.3 L702.7,303.7 L702.8,305.1 L702.8,306.4 L702.8,307.8 L702.9,309.2 L702.9,310.5"/>
<path id="c4" d="M94.5,648.0 L103.2,639.8 L111.8,631.6 L120.5,623.4 L129.2,615.2 L137.8,607.1 L146.5,598.9 L155.1,590.8 L163.8,582.8 L172.5,574.7 L181.1,566.7 L189.8,558.7 L198.5,550.7 L207.1,542.7 L215.8,534.8 L224.5,526.9 L233.1,519.0 L241.8,511.1 L250.5,503.2 L259.1,495.4 L267.8,487.6 L276.4,479.9 L285.1,472.1 L293.8,464.4 L302.4,456.7 L311.1,449.0 L319.8,441.4 L328.4,433.8 L337.1,426.2 L345.8,418.7 L354.4,411.2 L363.1,403.7 L371.7,396.2 L380.4,388.8 L389.1,381.4 L397.7,374.0 L406.4,366.7 L415.1,359.4 L423.7,352.1 L432.4,344.9 L441.1,337.7 L449.7,330.5 L458.4,323.4 L467.0,316.3 L475.7,309.2 L484.4,302.2 L493.0,295.3 L501.7,288.4 L510.4,281.5 L519.0,274.6 L527.7,267.9 L536.4,261.1 L545.0,254.4 L553.7,247.8 L562.4,241.2 L571.0,234.7 L579.7,228.2 L588.3,221.8 L597.0,215.5 L605.7,209.2 L614.3,203.0 L623.0,196.9 L631.7,190.9 L640.3,184.9 L649.0,179.0 L657.7,173.3 L666.3,167.6 L675.0,162.0 L683.6,156.6 L692.3,151.2 L701.0,146.1 L709.6,141.0 L718.3,136.2 L727.0,131.5 L735.6,127.1 L744.3,122.9 L753.0,118.9 L761.6,115.3 L770.3,112.1 L779.0,109.3 L782.4,108.3 L785.7,107.5 L788.8,106.8 L791.8,106.2 L794.6,105.7 L797.3,105.3 L799.9,105.0 L802.4,104.9 L804.8,104.8 L807.1,104.8 L809.2,104.9 L811.3,105.1 L813.3,105.3 L815.1,105.6 L816.9,106.0 L818.7,106.4 L820.3,107.0 L821.9,107.5 L823.4,108.2 L824.8,108.8 L826.1,109.6 L827.4,110.3 L828.7,111.2 L829.9,112.0 L831.0,112.9 L832.1,113.9 L833.1,114.9 L834.1,115.9 L835.1,116.9 L835.9,118.0 L836.8,119.2 L837.6,120.3 L838.4,121.5 L839.2,122.7 L839.9,123.9 L840.6,125.2 L841.2,126.4 L841.8,127.7 L842.4,129.1 L843.0,130.4 L843.5,131.7 L844.0,133.1 L844.5,134.5 L845.0,135.9 L845.5,137.3 L845.9,138.8 L846.3,140.2 L846.7,141.7 L847.1,143.2 L847.4,144.7 L847.8,146.2 L848.1,147.7 L848.4,149.2 L848.7,150.7 L849.0,152.3 L849.3,153.8 L849.5,155.4 L849.8,157.0 L850.0,158.5 L850.2,160.1 L850.4,161.7 L850.6,163.3 L850.8,164.9 L851.0,166.5 L851.2,168.1 L851.4,169.7 L851.5,171.4 L851.7,173.0 L851.8,174.6 L852.0,176.3 L852.1,177.9 L852.3,179.6 L852.4,181.2 L852.5,182.9 L852.6,184.5 L852.7,186.2 L852.8,187.9 L852.9,189.5 L853.0,191.2 L853.1,192.9 L853.2,194.6 L853.3,196.2 L853.3,197.9 L853.4,199.6 L853.5,201.3 L853.6,203.0 L853.6,204.7 L853.7,206.4 L853.7,208.0 L853.8,209.7 L853.9,211.4 L853.9,213.1 L854.0,214.8 L854.0,216.5 L854.1,218.2 L854.1,219.9 L854.1,221.6 L854.2,223.4 L854.2,225.1 L854.2,226.8 L854.3,228.5 L854.3,230.2 L854.3,231.9 L854.4,233.6 L854.4,235.3 L854.4,237.0 L854.5,238.7 L854.5,240.5 L854.5,242.2 L854.5,243.9 L854.5,245.6 L854.6,247.3 L854.6,249.0 L854.6,250.8 L854.6,252.5 L854.6,254.2 L854.7,255.9 L854.7,257.6 L854.7,259.3 L854.7,261.1 L854.7,262.8 L854.7,264.5 L854.7,266.2 L854.8,268.0 L854.8,269.7 L854.8,271.4 L854.8,273.1 L854.8,274.8 L854.8,276.6 L854.8,278.3 L854.8,280.0 L854.8,281.7 L854.8,283.5 L854.8,285.2 L854.9,286.9 L854.9,288.6 L854.9,290.4 L854.9,292.1 L854.9,293.8 L854.9,295.5 L854.9,297.3 L854.9,299.0 L854.9,300.7 L854.9,302.4 L854.9,304.2 L854.9,305.9 L854.9,307.6 L854.9,309.3 L854.9,311.1 L854.9,312.8 L854.9,314.5 L854.9,316.2 L854.9,318.0 L854.9,319.7 L854.9,321.4 L854.9,323.1 L854.9,324.9 L854.9,326.6 L855.0,328.3 L855.0,330.0 L855.0,331.8 L855.0,333.5 L855.0,335.2 L855.0,336.9 L855.0,338.7 L855.0,340.4 L855.0,342.1 L855.0,343.8 L855.0,345.6 L855.0,347.3 L855.0,349.0 L855.0,350.8 L855.0,352.5 L855.0,354.2 L855.0,355.9 L855.0,357.7 L855.0,359.4 L855.0,361.1 L855.0,362.8 L855.0,364.6 L855.0,366.3 L855.0,368.0 L855.0,369.8 L855.0,371.5 L855.0,373.2 L855.0,374.9 L855.0,376.7 L855.0,378.4 L855.0,380.1 L855.0,381.8 L855.0,383.6 L855.0,385.3 L855.0,387.0 L855.0,388.7 L855.0,390.5 L855.0,392.2 L855.0,393.9 L855.0,395.7 L855.0,397.4 L855.0,399.1 L855.0,400.8 L855.0,402.6 L855.0,404.3 L855.0,406.0 L855.0,407.7 L855.0,409.5 L855.0,411.2 L855.0,412.9 L855.0,414.7 L855.0,416.4 L855.0,418.1 L855.0,419.8 L855.0,421.6 L855.0,423.3 L855.0,425.0 L855.0,426.7 L855.0,428.5 L855.0,430.2 L855.0,431.9 L855.0,433.7 L855.0,435.4 L855.0,437.1 L855.0,438.8 L855.0,440.6 L855.0,442.3 L855.0,444.0 L855.0,445.7 L855.0,447.5 L855.0,449.2 L855.0,450.9 L855.0,452.7 L855.0,454.4 L855.0,456.1 L855.0,457.8 L855.0,459.6 L855.0,461.3 L855.0,463.0 L855.0,464.7 L855.0,466.5 L855.0,468.2 L855.0,469.9 L855.0,471.6 L855.0,473.4 L855.0,475.1 L855.0,476.8 L855.0,478.6 L855.0,480.3 L855.0,482.0 L855.0,483.7 L855.0,485.5 L855.0,487.2 L855.0,488.9 L855.0,490.6 L855.0,492.4 L855.0,494.1 L855.0,495.8 L855.0,497.6 L855.0,499.3 L855.0,501.0 L855.0,502.7 L855.0,504.5 L855.0,506.2 L855.0,507.9 L855.0,509.6 L855.0,511.4 L855.0,513.1 L855.0,514.8 L855.0,516.6 L855.0,518.3 L855.0,520.0 L855.0,521.7 L855.0,523.5 L855.0,525.2 L855.0,526.9 L855.0,528.6 L855.0,530.4 L855.0,532.1 L855.0,533.8 L855.0,535.6 L855.0,537.3 L855.0,539.0 L855.0,540.7 L855.0,542.5 L855.0,544.2 L855.0,545.9 L855.0,547.6 L855.0,549.4 L855.0,551.1 L855.0,552.8 L855.0,554.6 L855.0,556.3 L855.0,558.0 L855.0,559.7 L855.0,561.5 L855.0,563.2 L855.0,564.9 L855.0,566.6 L855.0,568.4 L855.0,570.1 L855.0,571.8 L855.0,573.6 L855.0,575.3 L855.0,577.0 L855.0,578.7 L855.0,580.5 L855.0,582.2 L855.0,583.9 L855.0,585.6 L855.0,587.4 L855.0,589.1 L855.0,590.8 L855.0,592.6 L855.0,594.3 L855.0,596.0 L855.0,597.7 L855.0,599.5 L855.0,601.2 L855.0,602.9 L855.0,604.6 L855.0,606.4 L855.0,608.1 L855.0,609.8 L855.0,611.6 L855.0,613.3 L855.0,615.0 L855.0,616.7 L855.0,618.5 L855.0,620.2 L855.0,621.9 L855.0,623.6 L855.0,625.4 L855.0,627.1 L855.0,628.8 L855.0,630.5 L855.0,632.3 L855.0,634.0 L855.0,635.7 L855.0,637.5 L855.0,639.2 L855.0,640.9 L855.0,642.6 L855.0,644.4 L855.0,646.0"/>
<path stroke-width="11.2" stroke-linecap="round" stroke-dasharray="0.01 5.8" d="M94.5,648.0 L103.2,639.8 L111.8,631.6 L120.5,623.4 L129.2,615.2 L137.8,607.1 L146.5,598.9 L155.1,590.8 L163.8,582.8 L172.5,574.7 L181.1,566.7 L189.8,558.7 L198.5,550.7 L207.1,542.7 L215.8,534.8 L224.5,526.9 L233.1,519.0 L241.8,511.1 L250.5,503.2 L259.1,495.4 L267.8,487.6 L276.4,479.9 L285.1,472.1 L293.8,464.4 L302.4,456.7 L311.1,449.0 L319.8,441.4 L328.4,433.8 L337.1,426.2 L345.8,418.7 L354.4,411.2 L363.1,403.7 L371.7,396.2 L380.4,388.8 L389.1,381.4 L397.7,374.0 L406.4,366.7 L415.1,359.4 L423.7,352.1 L432.4,344.9 L441.1,337.7 L449.7,330.5 L458.4,323.4 L467.0,316.3 L475.7,309.2 L484.4,302.2 L493.0,295.3 L501.7,288.4 L510.4,281.5 L519.0,274.6 L527.7,267.9 L536.4,261.1 L545.0,254.4 L553.7,247.8 L562.4,241.2 L571.0,234.7 L579.7,228.2 L588.3,221.8 L597.0,215.5 L605.7,209.2 L614.3,203.0 L623.0,196.9 L631.7,190.9 L640.3,184.9 L649.0,179.0 L657.7,173.3"/>
<path stroke-width="11" stroke-linecap="round" stroke-dasharray="0.01 5.2" d="M821.9,107.5 L823.4,108.2 L824.8,108.8 L826.1,109.6 L827.4,110.3 L828.7,111.2 L829.9,112.0 L831.0,112.9 L832.1,113.9 L833.1,114.9 L834.1,115.9 L835.1,116.9 L835.9,118.0 L836.8,119.2 L837.6,120.3 L838.4,121.5 L839.2,122.7 L839.9,123.9 L840.6,125.2 L841.2,126.4 L841.8,127.7 L842.4,129.1 L843.0,130.4 L843.5,131.7 L844.0,133.1 L844.5,134.5 L845.0,135.9 L845.5,137.3 L845.9,138.8 L846.3,140.2 L846.7,141.7 L847.1,143.2 L847.4,144.7 L847.8,146.2 L848.1,147.7 L848.4,149.2 L848.7,150.7 L849.0,152.3 L849.3,153.8 L849.5,155.4 L849.8,157.0 L850.0,158.5 L850.2,160.1 L850.4,161.7 L850.6,163.3 L850.8,164.9 L851.0,166.5 L851.2,168.1 L851.4,169.7 L851.5,171.4 L851.7,173.0 L851.8,174.6 L852.0,176.3 L852.1,177.9 L852.3,179.6 L852.4,181.2 L852.5,182.9 L852.6,184.5 L852.7,186.2 L852.8,187.9 L852.9,189.5 L853.0,191.2 L853.1,192.9 L853.2,194.6 L853.3,196.2 L853.3,197.9 L853.4,199.6 L853.5,201.3 L853.6,203.0 L853.6,204.7 L853.7,206.4 L853.7,208.0 L853.8,209.7 L853.9,211.4 L853.9,213.1 L854.0,214.8 L854.0,216.5 L854.1,218.2 L854.1,219.9 L854.1,221.6 L854.2,223.4 L854.2,225.1 L854.2,226.8 L854.3,228.5 L854.3,230.2 L854.3,231.9 L854.4,233.6"/>
</g>
<path d="M824.2,136.6 L823.9,144.4 L823.5,152.1 L823.2,159.9 L822.8,167.7 L822.4,175.4 L822.0,183.2 L821.5,191.0 L821.0,198.8 L820.5,206.6 L819.9,214.4 L819.2,222.3 L818.6,230.1 L817.9,237.9 L817.1,245.8 L816.2,253.6 L815.3,261.5 L814.3,269.3 L813.2,277.1 L811.9,284.9 L810.5,292.6 L809.0,300.3 L807.2,307.9 L805.3,315.5 L803.1,323.0 L800.7,330.4 L798.0,337.7 L795.0,344.8 L791.7,351.8 L788.0,358.6 L784.0,365.2 L779.6,371.6 L774.8,377.7 L769.5,383.6 L763.8,389.2 L757.6,394.5" fill="none" stroke="#000" stroke-width="6.5" stroke-linecap="round" stroke-linejoin="round"/>
<path d="M731.5,403.2 L758.2,381.6 Q757.5,393 765.3,401.6 Z" fill="#000"/>
<circle cx="820.75" cy="108.2" r="15.3" fill="#fff" stroke="#c00000" stroke-width="4.6"/>
<circle cx="703.75" cy="406.2" r="15.6" fill="#fff" stroke="#c00000" stroke-width="4.6"/>
<text class="t" x="93.9" y="684.8" text-anchor="middle">0</text>
<text class="t" x="194.5" y="684.8" text-anchor="middle">0.5</text>
<text class="t" x="292.6" y="684.8" text-anchor="middle">1</text>
<text class="t" x="394.1" y="684.8" text-anchor="middle">1.5</text>
<text class="t" x="495.6" y="684.8" text-anchor="middle">2</text>
<text class="t" x="596.2" y="684.8" text-anchor="middle">2.5</text>
<text class="t" x="696.9" y="684.8" text-anchor="middle">3</text>
<text class="t" x="796.9" y="684.8" text-anchor="middle">3.5</text>
<text class="t" x="896.6" y="684.8" text-anchor="middle">4</text>
<text class="t" x="998.0" y="684.8" text-anchor="middle">4.5</text>
<text class="t" x="87" y="659.2" text-anchor="end">0</text>
<text class="t" x="87" y="569.5" text-anchor="end">10</text>
<text class="t" x="87" y="479.4" text-anchor="end">20</text>
<text class="t" x="87" y="389.4" text-anchor="end">30</text>
<text class="t" x="87" y="299.0" text-anchor="end">40</text>
<text class="t" x="87" y="209.0" text-anchor="end">50</text>
<text class="t" x="87" y="119.1" text-anchor="end">60</text>
<text class="t" x="87" y="30.9" text-anchor="end">70</text>
<text class="l" x="454.6" y="722.3" textLength="177.2" lengthAdjust="spacing">Current (A)</text>
<text class="l" transform="translate(29.2,337.2) rotate(-90)" text-anchor="middle">Power (W)</text>
<text class="g" x="844" y="96.3">G=1</text>
<text class="g" x="697" y="217">G=0.8</text>
<text class="g" x="549" y="327.5">G=0.6</text>
<text class="g" x="401.3" y="432.5">G=0.4</text>
<text class="g" x="247" y="543.8">G=0.2</text>
</svg>
</body></html>
